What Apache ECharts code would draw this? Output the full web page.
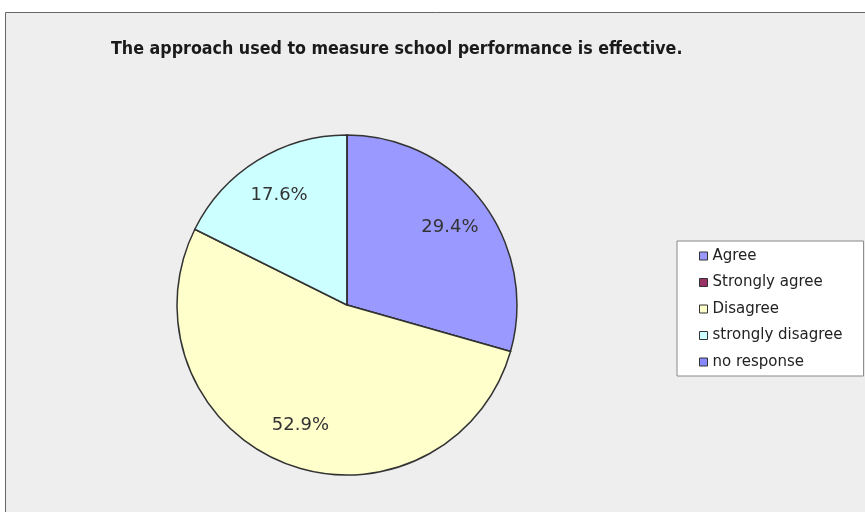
<!DOCTYPE html>
<html><head><meta charset="utf-8">
<script src="https://cdn.jsdelivr.net/npm/echarts@6/dist/echarts.min.js"></script>
<style>html,body{margin:0;padding:0;background:#fff}#c{width:865px;height:512px}</style>
</head><body><div id="c"></div>
<script>
const titleText = 'The approach used to measure school performance is effective.';
const categories = ['Agree', 'Strongly agree', 'Disagree', 'strongly disagree', 'no response'];
const values = [5, 0, 9, 3, 0];
const colors = ['#9999FF', '#993366', '#FFFFCC', '#CCFFFF', '#8888FF'];

const chart = echarts.init(document.getElementById('c'));
const data = categories.map((n, i) => ({ name: n, value: values[i], itemStyle: { color: colors[i] } }));
const center = [347, 305];
chart.setOption({
  animation: false,
  backgroundColor: '#fff',
  graphic: [{
    type: 'rect', z: -10, silent: true,
    shape: { x: 5.5, y: 12.5, width: 880, height: 520 },
    style: { fill: '#EEEEEE', stroke: '#666', lineWidth: 1 }
  }],
  title: {
    text: titleText, left: 106, top: 35,
    textStyle: { fontFamily: '"DejaVu Sans Condensed", "Liberation Sans Narrow", sans-serif', fontSize: 17.7, fontWeight: 'bold', color: '#1a1a1a' }
  },
  legend: {
    orient: 'vertical', left: 677, top: 241,
    padding: [7, 21, 6, 22], itemGap: 10.5,
    backgroundColor: '#fff', borderColor: '#888', borderWidth: 1,
    itemWidth: 8, itemHeight: 8, icon: 'rect',
    itemStyle: { borderColor: '#333', borderWidth: 1 },
    textStyle: { fontFamily: '"DejaVu Sans", sans-serif', fontSize: 15, color: '#222', lineHeight: 16 },
    data: categories
  },
  series: [{
    type: 'pie', center: center, radius: [0, 170], startAngle: 90, clockwise: true,
    label: { show: false }, labelLine: { show: false },
    itemStyle: { borderColor: '#333', borderWidth: 1.5 },
    emphasis: { disabled: true },
    data: data
  }, {
    type: 'pie', center: center, radius: [82, 170], startAngle: 90, clockwise: true,
    silent: true, legendHoverLink: false,
    itemStyle: { color: 'rgba(0,0,0,0)', borderWidth: 0 },
    label: {
      show: true, position: 'inside', fontFamily: '"DejaVu Sans", sans-serif', fontSize: 18, color: '#333',
      formatter: p => p.value > 0 ? p.percent.toFixed(1) + '%' : ''
    },
    labelLine: { show: false },
    emphasis: { disabled: true },
    data: categories.map((n, i) => ({ name: n, value: values[i] }))
  }]
});
</script></body></html>
